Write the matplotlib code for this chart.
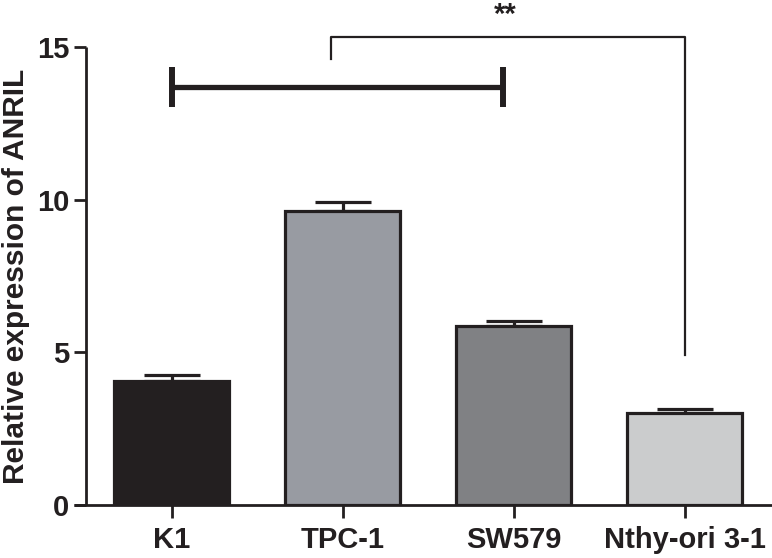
import matplotlib
matplotlib.use("Agg")
import matplotlib.pyplot as plt
import numpy as np

# data
groups = ['K1', 'TPC-1', 'SW579', 'Nthy-ori 3-1']
means = [4.06, 9.63, 5.86, 3.00]
errs = [0.19, 0.29, 0.17, 0.16]
colors = ['#231f20', '#989ba2', '#808184', '#cbcccd']

# odd horizontal bar between K1 and SW579
hbar_center = 0.97
hbar_halfwidth = 0.97
hbar_y = 13.7

# significance bracket TPC-1 -> Nthy-ori 3-1
br_left, br_right = 0.93, 3.0
br_top, br_left_low, br_right_low = 15.33, 14.6, 4.9
star_x, star_y = 1.95, 16.5

plt.rcParams['font.family'] = ['Liberation Sans', 'DejaVu Sans']
plt.rcParams['font.weight'] = 'bold'

fig = plt.figure(figsize=(7.72, 5.58), dpi=100)
ax = fig.add_axes([74 / 772, 1 - 505 / 558, 698 / 772, 458 / 558])

x = np.arange(len(groups))
ax.bar(x, means, width=0.67, color=colors, edgecolor='#231f20', linewidth=2.3, zorder=2)
ax.errorbar(x, means, yerr=[[0] * 4, errs], fmt='none', ecolor='#231f20',
            elinewidth=2.3, capsize=20.5, capthick=2.3, zorder=1)

ax.errorbar([hbar_center], [hbar_y], xerr=[hbar_halfwidth], fmt='none', ecolor='#231f20',
            elinewidth=3.8, capsize=14.5, capthick=4.3, clip_on=False)

ax.plot([br_left, br_left, br_right, br_right],
        [br_left_low, br_top, br_top, br_right_low],
        color='#231f20', linewidth=1.6, clip_on=False)
ax.text(star_x, star_y, '**', ha='center', va='top', fontsize=21, color='#231f20')

ax.set_xlim(-0.57, 3.51)
ax.set_ylim(0, 15)
ax.set_yticks([0, 5, 10, 15])
ax.set_xticks(x)
ax.set_xticklabels(groups)

ax.spines['top'].set_visible(False)
ax.spines['right'].set_visible(False)
ax.spines['left'].set_position(('data', -0.5))
for s in ['left', 'bottom']:
    ax.spines[s].set_linewidth(2.0)
    ax.spines[s].set_color('#231f20')
    ax.spines[s].set_capstyle('butt')

ax.tick_params(axis='both', colors='#231f20', width=2.0, length=9, labelsize=21)
ax.tick_params(axis='y', pad=3)
ax.tick_params(axis='x', pad=6)
ax.set_ylabel('Relative expression of ANRIL', fontsize=21.5, fontweight='bold',
              color='#231f20', labelpad=5)

fig.savefig('out.png', dpi=100)
